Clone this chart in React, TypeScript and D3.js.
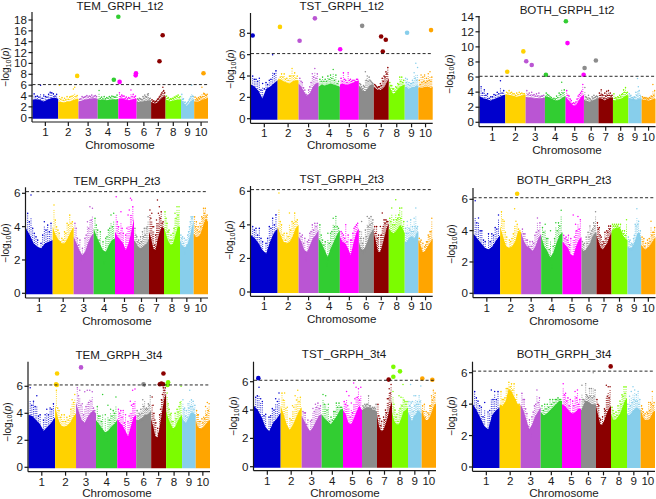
import * as d3 from 'd3'

const chromosomes = [1, 2, 3, 4, 5, 6, 7, 8, 9, 10]
const chromLengths = [80, 63, 60, 64, 57, 45, 45, 48, 41, 43]
const chromColors = ['#0000CD', '#FFD200', '#BA55D3', '#32CD32', '#FF00FF', '#8C8C8C', '#8B0000', '#7CFC00', '#87CEEB', '#FFA500']
const threshold = 6.1

type Hit = [number, number, number] // chromosome, genome position, -log10(p)

// mass = top of the solid band along each chromosome, tops = highest loose points, mids = lower loose points between them
const tem1Mass = [[3.3,3.4,3.3,3.0,3.3,3.6,3.7,3.5],[3.0,2.9,2.8,3.0,3.0,3.2,3.4,3.5],[3.0,3.1,3.3,3.4,3.5,3.6,3.6,3.5],[3.4,3.3,3.3,3.2,3.3,3.4,3.3,3.5],[3.4,3.6,3.5,3.3,3.2,3.3,3.5,3.5],[2.9,2.9,3.0,3.0,3.1,3.1,3.2,3.2],[2.9,2.7,2.6,2.8,3.2,3.6,3.9,4.0],[3.4,3.2,3.0,3.1,3.2,3.3,3.3,3.4],[3.4,3.0,2.5,2.2,2.5,3.0,3.3,3.4],[3.0,3.0,3.0,3.1,3.3,3.4,3.5,3.7]]
const tem1Tops = [[4.4,4.0,6.0,4.2,3.8,4.7,4.4,4.3],[6.0,3.7,3.6,3.9,3.8,4.0,5.6,4.1],[3.4,3.9,3.8,4.1,4.0,4.2,4.0,3.9],[5.0,3.8,3.9,3.7,3.9,4.0,3.8,4.2],[4.6,4.2,4.0,3.8,3.7,5.1,4.3,4.0],[3.5,3.6,3.4,3.9,4.2,3.8,4.4,3.6],[3.3,3.1,3.0,3.4,3.8,4.3,5.6,4.6],[4.0,3.7,3.5,3.6,3.8,4.0,4.2,3.9],[4.3,3.5,2.9,2.6,3.0,3.6,6.0,3.9],[3.8,3.6,3.7,3.9,5.6,4.5,4.2,4.3]]
const tem1Mids = [[3.9,3.8,3.6,3.9,4.3,4.6,4.0],[3.4,3.2,3.3,3.4,3.9,5.3,3.9],[3.5,3.7,3.9,3.8,3.9,3.8,4.1],[3.6,3.5,3.5,3.6,3.7,3.9,3.8],[3.9,4.0,3.6,3.5,3.6,3.9,3.8],[3.3,3.5,3.3,3.6,3.9,4.3,3.5],[3.0,2.9,3.1,3.5,4.0,4.6,5.0],[3.6,3.3,3.4,3.5,3.7,3.9,3.7],[3.4,2.8,2.5,2.8,3.3,3.9,4.0],[3.3,3.3,3.5,3.7,3.9,4.4,4.1]]
const tem1Hits: Hit[] = [[4,267,18.6],[7,405,15.2],[7,395,10.4],[2,139,7.7],[4,253,7.0],[5,271,6.6],[5,322,8.2],[5,321,7.8],[10,532,8.2]]

const tst1Mass = [[3.2,3.0,2.6,1.9,2.8,3.0,3.3,3.6],[3.6,3.7,3.5,3.4,3.3,3.5,3.6,3.6],[3.3,3.0,2.5,2.1,2.4,3.0,3.3,3.4],[3.0,3.2,3.1,3.2,3.3,3.2,3.1,3.0],[3.2,3.3,3.2,3.2,3.3,3.4,3.5,3.6],[3.1,2.9,2.6,2.6,2.8,3.1,3.2,3.2],[3.0,2.8,2.7,2.7,2.8,3.0,3.4,3.8],[3.2,2.7,2.3,2.5,2.8,3.0,3.1,3.2],[3.0,3.0,2.8,2.9,3.0,3.0,3.1,3.1],[2.9,2.9,2.9,3.0,3.0,3.0,2.9,3.0]]
const tst1Tops = [[4.0,3.7,3.8,3.3,3.4,3.6,6.0,4.5],[3.7,4.2,4.2,3.8,4.0,4.7,4.3,4.0],[3.8,3.4,2.7,2.2,3.0,4.2,4.7,4.2],[3.7,3.9,3.7,4.0,4.1,4.6,4.1,3.5],[3.8,4.3,3.6,4.3,3.7,3.6,3.5,3.7],[3.3,3.0,3.1,4.4,4.0,3.9,3.5,3.3],[3.2,3.0,3.0,3.3,3.8,4.0,4.4,4.8],[3.4,3.1,2.8,3.0,3.3,3.9,3.9,3.6],[3.8,3.7,3.4,3.3,3.6,4.3,5.2,4.8],[3.6,4.1,3.9,4.1,3.8,4.2,4.4,3.9]]
const tst1Mids = [[3.7,3.5,2.7,2.8,3.2,3.7,4.2],[3.9,3.9,3.7,3.6,4.0,4.0,3.8],[3.5,2.9,2.3,2.7,3.4,3.9,3.8],[3.5,3.5,3.5,3.7,3.8,3.6,3.3],[3.5,3.7,3.4,3.6,3.5,3.6,3.7],[3.2,2.8,3.0,3.6,3.5,3.6,3.4],[3.1,2.9,3.0,3.1,3.5,3.9,4.2],[3.1,2.8,2.6,2.9,3.2,3.5,3.4],[3.4,3.2,3.1,3.3,3.4,3.8,3.6],[3.2,3.4,3.5,3.4,3.5,3.6,3.5]]
const tst1Hits: Hit[] = [[1,5,7.8],[2,87,8.6],[3,146,7.3],[3,192,9.4],[5,268,6.5],[6,334,8.7],[7,391,7.7],[7,405,7.4],[7,396,6.3],[9,469,8.05],[10,541,8.3]]

const both1Mass = [[3.5,3.2,3.1,2.9,3.1,3.3,3.5,3.7],[3.7,3.7,3.6,3.5,3.4,3.5,3.6,3.7],[3.4,3.3,3.3,3.2,3.2,3.2,3.2,3.3],[3.5,3.4,3.2,3.0,2.9,3.0,3.3,3.5],[3.4,3.0,2.6,2.2,2.3,2.9,3.4,3.7],[3.0,2.9,2.8,2.7,2.9,3.0,3.1,3.3],[3.2,3.2,3.1,2.9,3.1,3.2,3.3,3.3],[3.0,2.9,3.0,3.1,3.2,3.4,3.6,3.6],[3.3,3.2,3.1,3.1,3.0,3.1,3.2,3.2],[3.0,3.0,3.0,2.9,2.9,3.0,3.1,3.1]]
const both1Tops = [[4.7,4.3,3.8,3.4,3.7,4.0,5.5,4.2],[4.0,4.2,4.0,3.8,3.9,4.0,3.9,3.8],[4.2,3.9,4.0,3.7,3.8,3.9,3.5,3.6],[3.9,3.6,3.3,3.2,3.5,3.9,5.3,4.3],[4.2,3.5,2.9,2.6,2.7,3.5,3.9,5.0],[4.6,3.3,3.6,3.1,3.4,3.6,3.4,3.4],[3.9,4.3,3.6,3.9,4.1,4.2,3.9,3.6],[3.8,3.3,3.4,3.6,3.7,4.3,4.6,4.0],[3.8,3.6,3.3,3.4,4.0,5.8,4.2,3.4],[3.4,3.3,3.3,3.2,3.3,3.5,5.0,4.2]]
const both1Mids = [[3.9,3.6,3.2,3.4,3.6,3.8,3.9],[3.9,3.9,3.8,3.6,3.7,3.8,3.8],[3.7,3.6,3.6,3.5,3.5,3.4,3.5],[3.7,3.4,3.1,3.1,3.3,3.7,3.9],[3.6,3.1,2.5,2.5,3.1,3.7,4.1],[3.4,3.1,3.2,2.9,3.2,3.3,3.5],[3.6,3.7,3.2,3.5,3.6,3.6,3.5],[3.2,3.1,3.3,3.4,3.8,4.0,3.9],[3.5,3.3,3.2,3.3,3.6,4.7,3.6],[3.2,3.2,3.1,3.1,3.2,3.4,3.6]]
const both1Hits: Hit[] = [[2,86,6.7],[2,136,9.4],[3,145,8.1],[3,162,7.6],[4,206,6.3],[4,268,13.4],[5,273,10.5],[6,326,7.2],[5,323,6.3],[6,361,8.2]]

const tem2Mass = [[3.9,3.5,3.0,2.8,2.7,3.0,3.1,3.2],[4.0,3.5,3.2,3.0,3.0,3.3,3.7,4.0],[3.4,3.0,2.6,2.3,2.5,3.0,3.4,3.6],[3.9,3.4,3.0,2.6,2.5,2.9,3.2,3.3],[3.7,3.4,3.2,3.0,2.6,3.0,3.7,4.5],[3.2,3.0,2.8,2.7,2.8,2.9,3.0,3.3],[3.7,3.3,2.7,2.6,3.2,3.7,4.0,3.9],[4.0,3.5,3.1,2.9,3.0,3.5,4.0,4.0],[3.2,2.9,2.8,2.8,3.0,3.4,3.9,4.4],[3.6,3.4,3.4,3.5,3.8,4.2,4.5,4.3]]
const tem2Tops = [[4.8,5.9,3.6,3.2,3.0,4.3,4.1,4.2],[5.3,4.0,3.6,3.3,3.7,4.2,4.7,4.3],[4.2,3.3,3.2,2.7,3.3,4.3,5.2,5.1],[4.5,3.8,3.7,3.1,3.3,3.8,4.7,4.8],[5.8,4.0,4.9,3.6,3.5,4.7,5.7,5.2],[3.9,3.4,3.2,3.4,3.7,3.9,3.9,4.6],[5.0,4.8,4.0,3.5,5.6,5.2,4.9,4.3],[4.9,4.2,3.8,3.5,3.6,4.8,5.2,5.2],[3.5,3.4,3.3,3.2,3.5,4.0,4.6,4.6],[4.6,4.3,4.0,4.2,4.6,5.1,5.1,4.7]]
const tem2Mids = [[4.3,3.9,3.4,2.4,3.5,3.8,3.7],[4.4,3.8,3.1,3.2,3.6,4.1,4.2],[3.9,2.9,2.1,2.2,3.5,3.9,4.4],[4.1,3.2,2.6,1.9,3.4,3.9,4.0],[4.3,3.6,3.9,2.1,3.9,5.0,5.6],[3.5,3.1,3.0,3.1,3.4,3.5,4.0],[4.5,4.0,2.9,4.4,4.8,4.5,4.2],[4.5,3.7,3.2,3.2,3.9,4.5,4.7],[3.3,3.0,2.5,2.9,3.7,4.3,4.5],[4.0,3.8,3.7,4.0,4.5,4.8,4.6]]

const tst2Mass = [[3.4,3.2,2.9,2.5,2.3,3.0,3.5,3.8],[3.9,3.4,3.0,2.9,3.0,3.3,3.8,4.0],[3.3,3.0,2.5,2.4,2.8,3.2,3.4,3.7],[3.2,2.9,2.5,2.1,2.6,3.0,3.4,3.7],[3.3,3.0,2.9,2.6,2.2,2.9,3.5,3.8],[3.0,2.6,2.5,2.7,3.0,3.4,3.6,3.8],[3.6,3.0,2.4,2.4,2.8,3.3,3.8,4.1],[3.8,3.6,3.5,3.6,3.8,4.0,3.8,3.5],[3.0,3.0,3.2,3.3,3.3,3.2,3.5,3.6],[3.1,2.8,2.4,2.4,2.6,2.8,3.0,3.2]]
const tst2Tops = [[3.9,3.8,3.8,3.0,2.9,3.9,4.4,4.6],[5.9,4.0,3.5,3.5,4.7,4.2,4.7,4.3],[3.5,3.4,3.2,3.0,3.5,4.0,4.1,4.1],[4.0,3.1,3.0,3.5,3.5,4.4,4.5,3.8],[3.6,3.4,4.0,3.4,3.1,3.5,3.9,4.1],[3.6,4.2,3.2,3.7,4.5,4.4,4.5,4.3],[3.9,3.9,3.4,3.9,4.7,4.3,4.3,4.2],[4.4,5.0,4.3,5.5,4.4,5.0,5.0,4.2],[3.8,4.2,3.8,4.3,3.9,4.4,5.0,3.9],[3.2,3.1,2.9,2.7,3.0,3.4,3.6,4.4]]
const tst2Mids = [[3.7,3.4,3.2,2.2,3.2,3.8,4.0],[4.2,3.4,3.1,3.3,3.7,4.1,4.2],[3.3,2.9,2.0,3.1,3.6,3.7,3.9],[3.4,2.8,1.7,2.9,3.6,3.9,3.9],[3.5,3.2,3.0,1.9,3.1,3.8,4.0],[3.2,2.9,2.4,3.3,3.9,4.0,4.1],[3.5,3.2,2.1,3.4,3.9,4.1,4.2],[4.2,4.0,4.0,4.3,4.6,4.4,3.9],[3.5,3.5,3.7,3.6,3.6,3.9,3.8],[3.0,2.6,2.3,2.8,3.0,3.3,3.6]]

const both2Mass = [[3.8,3.5,3.2,2.9,2.8,3.0,3.4,3.7],[4.3,3.6,3.0,2.9,3.0,3.3,4.0,3.9],[3.9,3.3,3.0,2.9,2.7,3.0,3.5,3.8],[3.7,3.0,2.7,2.3,2.6,3.2,3.7,3.9],[3.3,3.1,2.9,2.5,2.4,3.0,3.4,3.6],[2.9,2.7,2.8,3.0,3.2,3.6,3.8,3.9],[3.7,3.3,2.9,2.8,3.0,3.2,3.6,3.9],[4.0,4.1,4.2,4.2,4.1,3.7,3.5,3.4],[3.0,2.9,2.9,3.1,3.4,3.8,3.9,3.5],[3.1,2.9,2.8,2.9,3.0,3.2,3.4,3.6]]
const both2Tops = [[5.9,4.8,4.0,3.3,3.8,3.8,4.2,5.0],[5.2,4.6,3.6,3.4,3.5,5.4,4.4,4.0],[4.1,3.8,3.4,3.3,3.3,3.7,4.8,4.5],[4.2,4.4,3.5,4.0,3.0,4.5,4.5,5.3],[3.7,3.6,3.7,3.5,5.0,4.4,4.9,4.7],[3.3,3.2,3.6,3.9,4.3,4.0,4.5,5.2],[4.5,4.2,3.6,3.3,3.9,4.0,4.3,4.3],[4.4,4.4,4.4,4.4,4.4,4.0,4.0,4.7],[3.6,3.4,3.2,3.5,4.4,5.4,4.6,4.0],[3.6,3.5,3.2,3.4,3.5,4.6,3.9,4.2]]
const both2Mids = [[4.5,4.0,3.4,2.3,3.3,3.7,4.1],[4.7,3.9,2.6,3.3,3.8,4.6,4.1],[3.8,3.4,3.0,3.0,3.2,3.9,4.0],[3.9,3.5,2.8,1.8,3.5,4.0,4.3],[3.5,3.4,3.1,2.0,3.6,4.0,4.1],[3.1,2.6,3.2,3.6,3.8,4.1,4.3],[4.1,3.7,3.1,3.2,3.5,3.9,4.1],[4.3,4.3,4.3,4.2,3.9,3.8,3.7],[3.3,3.1,3.1,3.7,4.3,4.4,3.8],[3.3,3.0,2.5,3.2,3.3,3.7,3.9]]
const both2Hits: Hit[] = [[2,131,6.35]]

const tem3Mass = [[3.9,3.8,3.5,3.2,2.7,3.0,3.3,3.7],[4.6,3.6,3.1,3.0,3.1,3.3,3.7,4.0],[4.8,4.1,3.5,3.3,3.7,4.0,4.2,4.0],[3.5,3.2,2.9,2.6,2.7,3.0,3.2,3.5],[3.6,3.3,3.1,2.7,2.3,3.0,3.7,3.9],[3.5,3.5,3.6,3.7,3.9,3.9,4.0,4.2],[3.6,3.0,2.3,2.2,3.0,4.0,5.0,5.5],[4.2,3.6,3.2,2.9,3.0,3.4,3.7,3.9],[3.7,3.4,3.3,3.6,3.9,4.1,4.0,3.9],[3.5,3.0,2.9,2.9,3.0,3.2,3.4,3.5]]
const tem3Tops = [[5.9,4.9,5.3,3.9,3.5,4.3,4.4,4.7],[5.7,4.2,3.9,3.9,3.7,3.8,5.0,5.4],[5.9,5.7,4.7,5.6,5.7,5.7,5.6,4.2],[4.5,3.8,5.4,3.9,4.6,4.3,4.2,5.2],[4.3,4.2,4.2,3.9,3.4,4.9,5.7,5.8],[4.2,4.0,4.3,5.0,6.0,4.4,4.7,5.3],[5.2,4.0,3.3,2.9,3.9,5.0,5.9,5.9],[5.5,4.3,4.0,3.4,4.0,4.3,4.5,6.0],[5.0,4.4,4.2,4.7,5.7,5.0,4.9,4.6],[4.2,3.9,3.4,3.6,3.7,4.5,4.8,4.7]]
const tem3Mids = [[4.6,4.5,3.8,1.8,3.9,3.9,4.3],[4.4,3.7,3.4,3.4,3.5,4.3,4.8],[5.3,4.6,3.9,4.5,4.8,4.9,4.4],[3.8,3.4,2.4,2.1,3.5,3.8,4.0],[4.0,3.7,3.3,1.7,3.8,4.6,4.7],[3.8,3.9,4.0,4.5,4.3,4.3,4.6],[4.6,3.5,1.9,2.5,4.3,5.4,5.7],[4.7,3.9,3.4,2.6,3.6,4.1,4.8],[4.3,3.8,3.7,4.4,4.5,4.5,4.3],[3.9,3.4,2.6,3.3,3.6,3.9,4.2]]
const tem3Hits: Hit[] = [[2,86,6.95],[2,83,6.15],[2,85,6.1],[3,158,7.4],[6,346,6.15],[7,406,6.95],[7,395,6.15],[7,400,6.2],[7,405,6.15],[8,420,6.3],[8,418,6.1]]

const tst3Mass = [[4.3,4.0,3.5,2.8,2.5,3.1,3.4,3.8],[4.3,3.7,3.0,2.6,2.9,3.4,3.9,4.2],[3.6,3.2,2.8,2.5,2.8,3.2,3.6,3.7],[3.7,3.4,3.2,3.0,3.3,3.6,4.0,4.1],[4.0,3.7,3.1,3.0,3.4,3.9,4.3,4.0],[4.0,4.1,4.2,4.2,4.2,4.0,4.0,3.9],[3.7,2.8,2.5,2.6,3.0,3.5,4.2,4.6],[3.9,3.2,3.0,3.0,3.4,3.9,4.0,4.2],[3.9,3.6,3.2,3.6,3.7,4.0,3.9,3.7],[4.1,3.6,3.3,3.3,3.5,3.9,4.3,4.5]]
const tst3Tops = [[4.9,5.6,4.6,3.7,3.5,4.1,4.8,5.2],[5.2,5.2,4.2,3.4,4.3,5.0,5.4,4.9],[3.9,3.8,3.3,3.2,4.1,4.4,4.5,4.3],[5.1,5.0,4.4,3.5,3.9,4.5,4.5,4.2],[4.6,5.3,5.0,4.5,5.9,5.6,5.5,5.6],[4.3,4.4,4.4,5.0,4.3,4.2,4.2,4.4],[4.4,3.4,3.2,3.5,4.0,4.8,5.5,5.8],[5.3,4.0,3.7,5.0,4.9,5.8,4.6,4.6],[4.6,5.8,4.6,5.0,5.0,4.6,5.0,5.7],[4.3,4.4,3.9,3.8,4.3,5.0,5.4,5.2]]
const tst3Mids = [[5.0,4.8,3.6,2.0,3.6,4.0,4.6],[4.7,4.1,2.4,3.3,4.2,4.7,4.6],[3.8,3.0,2.3,3.3,3.9,4.2,4.1],[4.4,4.0,3.2,3.3,3.9,4.2,4.2],[4.4,4.3,3.5,3.8,4.8,4.9,4.7],[4.2,4.3,4.4,4.3,4.1,4.1,4.1],[3.6,2.9,2.3,3.3,3.8,4.8,5.2],[4.4,3.5,3.2,4.1,4.3,4.7,4.4],[4.3,4.5,3.9,4.3,4.4,4.4,4.6],[3.9,3.5,3.0,3.7,4.3,4.7,4.9]]
const tst3Hits: Hit[] = [[1,13,6.25],[7,404,6.15],[8,418,7.05],[8,418,6.35],[8,438,6.73],[10,505,6.23],[10,535,6.14]]

const both3Mass = [[4.0,3.6,3.1,2.6,2.4,3.3,3.6,3.8],[4.0,3.9,4.2,5.0,4.8,4.4,4.0,3.9],[4.0,3.6,3.0,2.4,2.7,3.2,3.5,3.8],[3.5,3.3,3.4,3.6,3.8,4.0,4.2,4.2],[4.0,3.9,3.7,3.5,3.4,3.5,3.7,3.7],[3.6,3.9,4.2,4.2,4.1,4.0,4.0,4.0],[3.9,3.3,2.7,2.7,3.0,3.4,3.7,3.9],[3.4,3.0,3.0,3.2,3.4,3.8,4.2,4.4],[3.4,3.3,3.4,3.6,3.7,3.8,3.7,3.6],[3.7,3.2,3.0,3.0,3.0,3.2,3.5,3.6]]
const both3Tops = [[4.8,4.2,3.8,4.1,3.5,4.9,4.8,4.8],[4.8,4.3,5.0,5.4,5.3,5.3,4.6,4.0],[4.7,4.3,3.4,3.0,3.2,3.9,4.9,4.4],[3.9,4.0,4.0,4.3,4.3,4.3,4.4,4.3],[5.3,4.7,4.4,4.3,4.2,4.8,4.9,4.3],[5.2,4.3,5.3,4.5,5.0,5.0,6.0,4.9],[4.3,3.9,3.0,3.2,3.7,5.2,5.1,5.1],[3.8,3.4,3.5,3.9,4.2,4.6,5.1,5.1],[4.0,4.5,4.8,5.1,4.9,4.6,4.8,4.3],[3.9,3.5,3.4,3.5,4.1,4.1,4.8,4.1]]
const both3Mids = [[4.4,3.9,3.2,1.9,3.6,4.3,4.3],[4.3,4.4,5.0,5.1,4.9,4.3,4.0],[4.3,3.7,2.6,2.1,3.5,4.0,4.1],[3.6,3.7,3.8,4.0,4.1,4.3,4.3],[4.6,4.2,3.9,2.6,3.9,4.4,4.0],[4.3,4.2,4.6,4.4,4.5,4.4,4.5],[4.0,3.1,2.3,2.8,3.6,4.5,4.4],[3.6,3.2,3.3,3.6,4.0,4.5,4.7],[3.7,3.9,4.1,4.3,4.2,4.2,4.0],[3.7,3.3,2.5,3.4,3.6,4.0,3.9]]
const both3Hits: Hit[] = [[7,413,6.4]]

type Panel = {
  title: string
  mass: number[][]
  tops: number[][]
  mids: number[][]
  hits: Hit[]
  ticks: number[]
  left: number
  right: number
  y0: number // pixel of value 0
  yMax: number // pixel of the last tick
  axisY: number
  axisTop: number
  titlePos: [number, number]
  xLabelPos: [number, number]
  yLabelPos: [number, number]
}

const panels: Panel[] = [
  { title: 'TEM_GRPH_1t2', mass: tem1Mass, tops: tem1Tops, mids: tem1Mids, hits: tem1Hits, ticks: d3.range(0, 19, 2), left: 32.5, right: 208, y0: 117.7, yMax: 20, axisY: 122, axisTop: 12, titlePos: [120, 10], xLabelPos: [120, 148.5], yLabelPos: [9, 67] },
  { title: 'TST_GRPH_1t2', mass: tst1Mass, tops: tst1Tops, mids: tst1Mids, hits: tst1Hits, ticks: [0, 2, 4, 6, 8], left: 251, right: 432.7, y0: 118.7, yMax: 33.3, axisY: 123.3, axisTop: 13, titlePos: [341.7, 10], xLabelPos: [341.7, 149], yLabelPos: [234, 69] },
  { title: 'BOTH_GRPH_1t2', mass: both1Mass, tops: both1Tops, mids: both1Mids, hits: both1Hits, ticks: d3.range(0, 15, 2), left: 479.5, right: 655.5, y0: 122.3, yMax: 16.7, axisY: 126.7, axisTop: 16, titlePos: [567, 13.5], xLabelPos: [567, 153.5], yLabelPos: [452.5, 74] },
  { title: 'TEM_GRPH_2t3', mass: tem2Mass, tops: tem2Tops, mids: tem2Mids, hits: [], ticks: [0, 2, 4, 6], left: 26, right: 208, y0: 293.3, yMax: 193.3, axisY: 298, axisTop: 187.3, titlePos: [117, 184.6], xLabelPos: [117, 324.5], yLabelPos: [9, 243] },
  { title: 'TST_GRPH_2t3', mass: tst2Mass, tops: tst2Tops, mids: tst2Mids, hits: [], ticks: [0, 2, 4, 6], left: 251, right: 432.7, y0: 292, yMax: 191.3, axisY: 296.3, axisTop: 186, titlePos: [341.7, 183], xLabelPos: [341.7, 323], yLabelPos: [233, 240] },
  { title: 'BOTH_GRPH_2t3', mass: both2Mass, tops: both2Tops, mids: both2Mids, hits: both2Hits, ticks: [0, 2, 4, 6], left: 473.5, right: 655.5, y0: 293.3, yMax: 199.3, axisY: 297.7, axisTop: 188, titlePos: [564, 184], xLabelPos: [564, 324.5], yLabelPos: [455, 244] },
  { title: 'TEM_GRPH_3t4', mass: tem3Mass, tops: tem3Tops, mids: tem3Mids, hits: tem3Hits, ticks: [0, 2, 4, 6], left: 28.5, right: 210, y0: 467.3, yMax: 386.3, axisY: 471.7, axisTop: 361.7, titlePos: [119, 358.7], xLabelPos: [117, 497], yLabelPos: [10.5, 422] },
  { title: 'TST_GRPH_3t4', mass: tst3Mass, tops: tst3Tops, mids: tst3Mids, hits: tst3Hits, ticks: [0, 2, 4, 6], left: 254, right: 436, y0: 466.7, yMax: 381.7, axisY: 470.7, axisTop: 361.7, titlePos: [344, 358], xLabelPos: [345, 497], yLabelPos: [237, 416] },
  { title: 'BOTH_GRPH_3t4', mass: both3Mass, tops: both3Tops, mids: both3Mids, hits: both3Hits, ticks: [0, 2, 4, 6], left: 473, right: 655, y0: 467, yMax: 372.7, axisY: 471.3, axisTop: 361.7, titlePos: [564, 358], xLabelPos: [564, 497], yLabelPos: [455, 416] },
]

const chromStarts = chromLengths.map((_, i) => d3.sum(chromLengths.slice(0, i)))
const genomeLength = d3.sum(chromLengths)
const textColor = '#1a1a1a'

function Manhattan({ panel }: { panel: Panel }) {
  const x = d3.scaleLinear().domain([0, genomeLength]).range([panel.left, panel.right])
  const lastTick = panel.ticks[panel.ticks.length - 1]
  const y = d3.scaleLinear().domain([0, lastTick]).range([panel.y0, panel.yMax])

  // a column of loose points: dotted down to the band, the single point on top
  const looseColumn = (px: number, v: number, bandTop: number, key: string) => (
    <g key={key}>
      <line x1={px} x2={px} y1={y(Math.min(v, bandTop + 1))} y2={y(bandTop - 0.2)} strokeWidth={0.9} strokeDasharray="0.9 1.3" />
      <circle cx={px} cy={y(v)} r={0.75} stroke="none" />
    </g>
  )

  return (
    <g>
      {chromosomes.map((chrom, c) => {
        const start = chromStarts[c]
        const len = chromLengths[c]
        const mass = panel.mass[c]
        const area = d3
          .area<number>()
          .x((_, i) => x(start + (i / (mass.length - 1)) * len))
          .y0(y(0) + 1)
          .y1((d) => y(d))
        return (
          <g key={chrom} fill={chromColors[c]} stroke={chromColors[c]}>
            <path d={area(mass) ?? ''} stroke="none" />
            {panel.tops[c].map((v, i) =>
              looseColumn(x(start + ((i + 0.5) / 8) * len), v, mass[Math.round(((i + 0.5) * 7) / 8)], `t${i}`),
            )}
            {panel.mids[c].map((v, i) =>
              looseColumn(x(start + ((i + 1) / 8) * len), v, Math.min(v, mass[Math.round(((i + 1) * 7) / 8)]), `m${i}`),
            )}
          </g>
        )
      })}

      {panel.hits.map(([chrom, g, v], i) => (
        <circle key={i} cx={x(g)} cy={y(v)} r={2.3} fill={chromColors[chrom - 1]} />
      ))}

      <line x1={panel.left} x2={panel.right} y1={y(threshold)} y2={y(threshold)} stroke="#111" strokeWidth={0.9} strokeDasharray="3 2.2" />

      {/* axes */}
      <g stroke={textColor} strokeWidth={1.2} fill="none">
        <line x1={panel.left - 0.5} x2={panel.left - 0.5} y1={panel.axisTop} y2={panel.axisY} />
        <line x1={panel.left - 0.5} x2={panel.right} y1={panel.axisY} y2={panel.axisY} />
        {panel.ticks.map((t) => (
          <line key={t} x1={panel.left - 4} x2={panel.left} y1={y(t)} y2={y(t)} />
        ))}
        {chromosomes.map((chrom, c) => {
          const px = x(chromStarts[c] + chromLengths[c] / 2)
          return <line key={chrom} x1={px} x2={px} y1={panel.axisY} y2={panel.axisY + 4} />
        })}
      </g>

      <g fontFamily="'Liberation Sans', Arial, sans-serif" fontSize={11.6} fill={textColor}>
        {panel.ticks.map((t) => (
          <text key={t} x={panel.left - 5.5} y={y(t) + 4} textAnchor="end">
            {t}
          </text>
        ))}
        {chromosomes.map((chrom, c) => (
          <text key={chrom} x={x(chromStarts[c] + chromLengths[c] / 2)} y={panel.axisY + 14} textAnchor="middle">
            {chrom}
          </text>
        ))}
        <text x={panel.titlePos[0]} y={panel.titlePos[1]} textAnchor="middle">
          {panel.title}
        </text>
        <text x={panel.xLabelPos[0]} y={panel.xLabelPos[1]} textAnchor="middle">
          Chromosome
        </text>
        <text transform={`translate(${panel.yLabelPos[0]},${panel.yLabelPos[1]}) rotate(-90)`} textAnchor="middle" fontSize={10}>
          −log
          <tspan fontSize={7} dy={1.5}>10</tspan>
          <tspan dy={-1.5}>(</tspan>
          <tspan fontStyle="italic">p</tspan>)
        </text>
      </g>
    </g>
  )
}

export default function App() {
  return (
    <svg width={656} height={499} viewBox="0 0 656 499" style={{ position: 'absolute', left: 0, top: 0, background: '#fff' }}>
      {panels.map((p) => (
        <Manhattan key={p.title} panel={p} />
      ))}
    </svg>
  )
}
